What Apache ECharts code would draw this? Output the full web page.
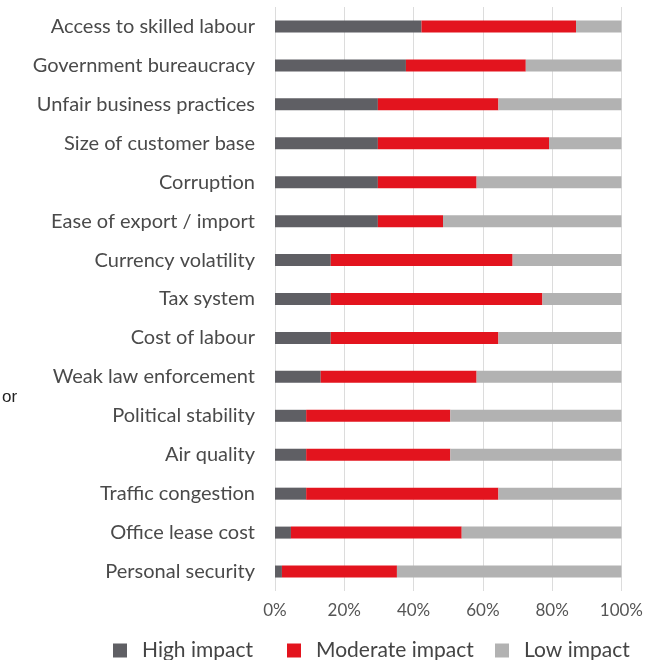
<!DOCTYPE html>
<html>
<head>
<meta charset="utf-8">
<style>
  html, body { margin: 0; padding: 0; background: #ffffff; overflow: hidden; }
  #chart { width: 100vw; height: 100vh; }
</style>
<script src="https://cdn.jsdelivr.net/npm/echarts@6/dist/echarts.min.js"></script>
</head>
<body>
<div id="chart"></div>
<script>
// Business environment factors, top to bottom
const categories = [
  'Access to skilled labour',
  'Government bureaucracy',
  'Unfair business practices',
  'Size of customer base',
  'Corruption',
  'Ease of export / import',
  'Currency volatility',
  'Tax system',
  'Cost of labour',
  'Weak law enforcement',
  'Political stability',
  'Air quality',
  'Traffic congestion',
  'Office lease cost',
  'Personal security'
];

// Share of respondents (%) per impact level
const highImpact     = [42.3, 37.8, 29.7, 29.7, 29.7, 29.7, 16.1, 16.1, 16.1, 13.2, 9.0, 9.0, 9.0, 4.6, 2.0];
const moderateImpact = [44.6, 34.6, 34.8, 49.4, 28.5, 18.8, 52.5, 61.1, 48.4, 45.0, 41.6, 41.6, 55.5, 49.3, 33.2];
const lowImpact      = highImpact.map((h, i) => +(100 - h - moderateImpact[i]).toFixed(1));

const seriesNames = ['High impact', 'Moderate impact', 'Low impact'];
const seriesColors = ['#5f5f64', '#e3141e', '#b2b2b2'];
const xTicks = [0, 20, 40, 60, 80, 100];

const labelFont = 'Lato, "Noto Sans", sans-serif';
const chart = echarts.init(document.getElementById('chart'), null, { renderer: 'canvas' });

const values = [highImpact, moderateImpact, lowImpact];

// One legend block per series so each entry sits at its own spot along the bottom
const legendLefts = [113, 287, 495];
const legends = seriesNames.map((name, k) => ({
  left: legendLefts[k],
  top: 640,
  padding: 0,
  itemWidth: 14,
  itemHeight: 14,
  icon: 'rect',
  selectedMode: false,
  textStyle: { fontFamily: labelFont, fontSize: 21, color: '#444444', padding: [0, 0, 0, 10] },
  data: [name]
}));

chart.setOption({
  animation: false,
  backgroundColor: '#ffffff',
  grid: { left: 275, width: 351, top: 7, height: 584, containLabel: false },
  legend: legends,
  xAxis: {
    type: 'value',
    min: 0,
    max: 100,
    interval: 20,
    axisLine: { show: false },
    axisTick: { show: false },
    splitLine: { show: true, lineStyle: { color: '#dcdcdc', width: 1 } },
    axisLabel: {
      margin: 11,
      fontFamily: labelFont,
      fontSize: 17,
      color: '#555555',
      formatter: v => xTicks.includes(v) ? v + '%' : ''
    }
  },
  yAxis: {
    type: 'category',
    inverse: true,
    data: categories,
    axisLine: { show: false },
    axisTick: { show: false },
    axisLabel: {
      margin: 20,
      fontFamily: labelFont,
      fontSize: 20,
      color: '#4a4a4a'
    }
  },
  series: seriesNames.map((name, k) => ({
    name: name,
    type: 'bar',
    stack: 'impact',
    barWidth: 12,
    itemStyle: { color: seriesColors[k] },
    data: values[k]
  })),
  graphic: [{
    type: 'text',
    left: 2,
    top: 389,
    style: { text: 'or', fontFamily: '"Liberation Sans", Arial, sans-serif', fontSize: 17, fill: '#222222' }
  }]
});
</script>
</body>
</html>
